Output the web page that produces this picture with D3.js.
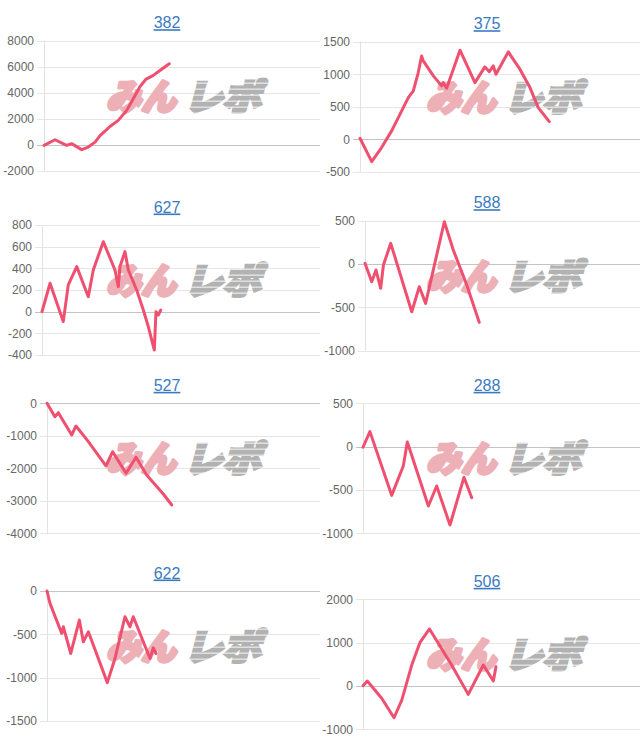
<!DOCTYPE html>
<html>
<head>
<meta charset="utf-8">
<script src="https://cdn.jsdelivr.net/npm/d3@7/dist/d3.min.js"></script>
<style>
  html, body { margin: 0; padding: 0; background: #fff; }
  svg { display: block; }
</style>
</head>
<body>
<svg id="chart" width="640" height="745"></svg>
<script>
// ---------- DATA ----------
const titles = ["382", "375", "627", "588", "527", "288", "622", "506"];

const ticks382 = [8000, 6000, 4000, 2000, 0, -2000];
const ticks375 = [1500, 1000, 500, 0, -500];
const ticks627 = [800, 600, 400, 200, 0, -200, -400];
const ticks588 = [500, 0, -500, -1000];
const ticks527 = [0, -1000, -2000, -3000, -4000];
const ticks288 = [500, 0, -500, -1000];
const ticks622 = [0, -500, -1000, -1500];
const ticks506 = [2000, 1000, 0, -1000];

// games (x) and coin difference (y)
const games382 = [0, 400, 820, 1000, 1365, 1605, 1850, 2030, 2390, 2690, 2995, 3235, 3480, 3685, 3960, 4200, 4540];
const diff382  = [-50, 380, -50, 80, -380, -180, 200, 700, 1400, 1870, 2640, 3540, 4480, 5020, 5330, 5710, 6230];

const games375 = [0, 418, 770, 1130, 1430, 1725, 1905, 2080, 2200, 2260, 2620, 2915, 2975, 3095, 3570, 4105, 4460, 4620, 4760, 4855, 5295, 5710, 6070, 6365, 6760];
const diff375  = [15, -345, -129, 128, 385, 640, 743, 1025, 1281, 1204, 974, 820, 870, 784, 1369, 870, 1112, 1040, 1127, 1000, 1343, 1077, 794, 486, 271];

const games627 = [0, 290, 765, 945, 1250, 1665, 1845, 2205, 2625, 2745, 2805, 2985, 3105, 3405, 3645, 3825, 4040, 4100, 4185, 4270];
const diff627  = [0, 262, -92, 247, 416, 138, 385, 646, 385, 231, 416, 554, 385, 200, 15, -139, -354, 0, -31, 15];

const games588 = [0, 245, 400, 570, 670, 935, 1700, 1975, 2205, 2885, 3210, 3700, 4155];
const diff588  = [8, -204, -69, -280, -12, 239, -550, -262, -454, 488, 162, -242, -673];

const games527 = [0, 290, 415, 905, 1060, 1515, 2160, 2405, 2895, 3260, 3650, 4260, 4570];
const diff527  = [0, -412, -289, -975, -698, -1181, -1929, -1489, -2154, -1662, -2206, -2791, -3129];

const games288 = [0, 250, 1035, 1455, 1600, 2360, 2660, 3140, 3645, 3925];
const diff288  = [-7, 173, -562, -223, 54, -685, -454, -904, -354, -589];

const games622 = [0, 110, 540, 600, 870, 1185, 1330, 1515, 2210, 2490, 2855, 3040, 3160, 3775, 3895, 3995];
const diff622  = [0, -143, -490, -413, -721, -335, -586, -471, -1057, -779, -297, -413, -297, -779, -656, -721];

const games506 = [0, 155, 675, 1120, 1400, 1760, 2060, 2400, 3200, 3800, 4345, 4705, 4800];
const diff506  = [7, 114, -285, -733, -325, 483, 1008, 1315, 483, -194, 483, 114, 445];

const maxGames = 10000;

// ---------- LAYOUT ----------
const panels = [
  { title: titles[0], ticks: ticks382, games: games382, diff: diff382, colX: 0,   top: 40.7,  left: 44 },
  { title: titles[1], ticks: ticks375, games: games375, diff: diff375, colX: 320, top: 41.7,  left: 360 },
  { title: titles[2], ticks: ticks627, games: games627, diff: diff627, colX: 0,   top: 225,   left: 42 },
  { title: titles[3], ticks: ticks588, games: games588, diff: diff588, colX: 320, top: 220.7, left: 365 },
  { title: titles[4], ticks: ticks527, games: games527, diff: diff527, colX: 0,   top: 403.3, left: 47 },
  { title: titles[5], ticks: ticks288, games: games288, diff: diff288, colX: 320, top: 403.3, left: 363 },
  { title: titles[6], ticks: ticks622, games: games622, diff: diff622, colX: 0,   top: 591,   left: 47 },
  { title: titles[7], ticks: ticks506, games: games506, diff: diff506, colX: 320, top: 599.3, left: 363 }
];
const plotH = 130;
const font = "'Liberation Sans', Arial, Helvetica, sans-serif";

const svg = d3.select("#chart");
const defs = svg.append("defs");
const pat = defs.append("pattern")
  .attr("id", "stripes")
  .attr("patternUnits", "userSpaceOnUse")
  .attr("width", 8).attr("height", 6);
pat.append("rect").attr("width", 8).attr("height", 6).attr("fill", "#b2b2b2");
pat.append("rect").attr("y", 4.6).attr("width", 8).attr("height", 1.1).attr("fill", "#f2f2f2");

panels.forEach(p => {
  const g = svg.append("g");
  const right = p.colX + 320;
  const y = d3.scaleLinear()
    .domain([d3.min(p.ticks), d3.max(p.ticks)])
    .range([p.top + plotH, p.top]);
  const x = d3.scaleLinear().domain([0, maxGames]).range([p.left, right]);

  // gridlines + tick marks
  g.selectAll("line.grid").data(p.ticks).enter().append("line")
    .attr("x1", p.left - 7).attr("x2", right)
    .attr("y1", d => Math.round(y(d)) + 0.5).attr("y2", d => Math.round(y(d)) + 0.5)
    .attr("stroke", d => d === 0 ? "#c4c4c4" : "#e6e6e6")
    .attr("stroke-width", 1);

  // y axis line
  g.append("line")
    .attr("x1", Math.round(p.left) + 0.5).attr("x2", Math.round(p.left) + 0.5)
    .attr("y1", p.top).attr("y2", p.top + plotH)
    .attr("stroke", "#e2e2e2");

  // tick labels
  g.selectAll("text.tick").data(p.ticks).enter().append("text")
    .attr("x", p.left - 10).attr("y", d => y(d))
    .attr("dy", "0.36em")
    .attr("text-anchor", "end")
    .attr("font-family", font).attr("font-size", 12)
    .attr("fill", "#666")
    .text(d => d);

  // title
  g.append("text")
    .attr("x", p.colX + 167).attr("y", p.top - 12.5)
    .attr("text-anchor", "middle")
    .attr("font-family", font).attr("font-size", 16)
    .attr("fill", "#3a7bc0")
    .attr("text-decoration", "underline")
    .text(p.title);

  // watermark
  const wm = g.append("g");
  wm.append("text")
    .attr("x", p.colX + 106).attr("y", p.top + 69)
    .attr("font-family", "'Noto Sans CJK JP', sans-serif")
    .attr("font-weight", "900").attr("font-style", "italic")
    .attr("font-size", 36)
    .attr("textLength", 70).attr("lengthAdjust", "spacingAndGlyphs")
    .attr("fill", "#ecb0b6")
    .attr("stroke", "#ecb0b6").attr("stroke-width", 3.2)
    .attr("stroke-linejoin", "round")
    .text("みん");
  wm.append("text")
    .attr("x", p.colX + 184).attr("y", p.top + 69)
    .attr("font-family", "'Noto Sans CJK JP', sans-serif")
    .attr("font-weight", "900").attr("font-style", "italic")
    .attr("font-size", 36)
    .attr("textLength", 77).attr("lengthAdjust", "spacingAndGlyphs")
    .attr("fill", "url(#stripes)")
    .attr("stroke", "url(#stripes)").attr("stroke-width", 3.2)
    .attr("stroke-linejoin", "miter")
    .text("レポ");

  // line
  const pts = p.games.map((gm, i) => [gm, p.diff[i]]);
  const line = d3.line().x(d => x(d[0])).y(d => y(d[1]));
  g.append("path")
    .datum(pts)
    .attr("d", line)
    .attr("fill", "none")
    .attr("stroke", "#ef5070")
    .attr("stroke-width", 3)
    .attr("stroke-linejoin", "round")
    .attr("stroke-linecap", "round");
});
</script>
</body>
</html>
